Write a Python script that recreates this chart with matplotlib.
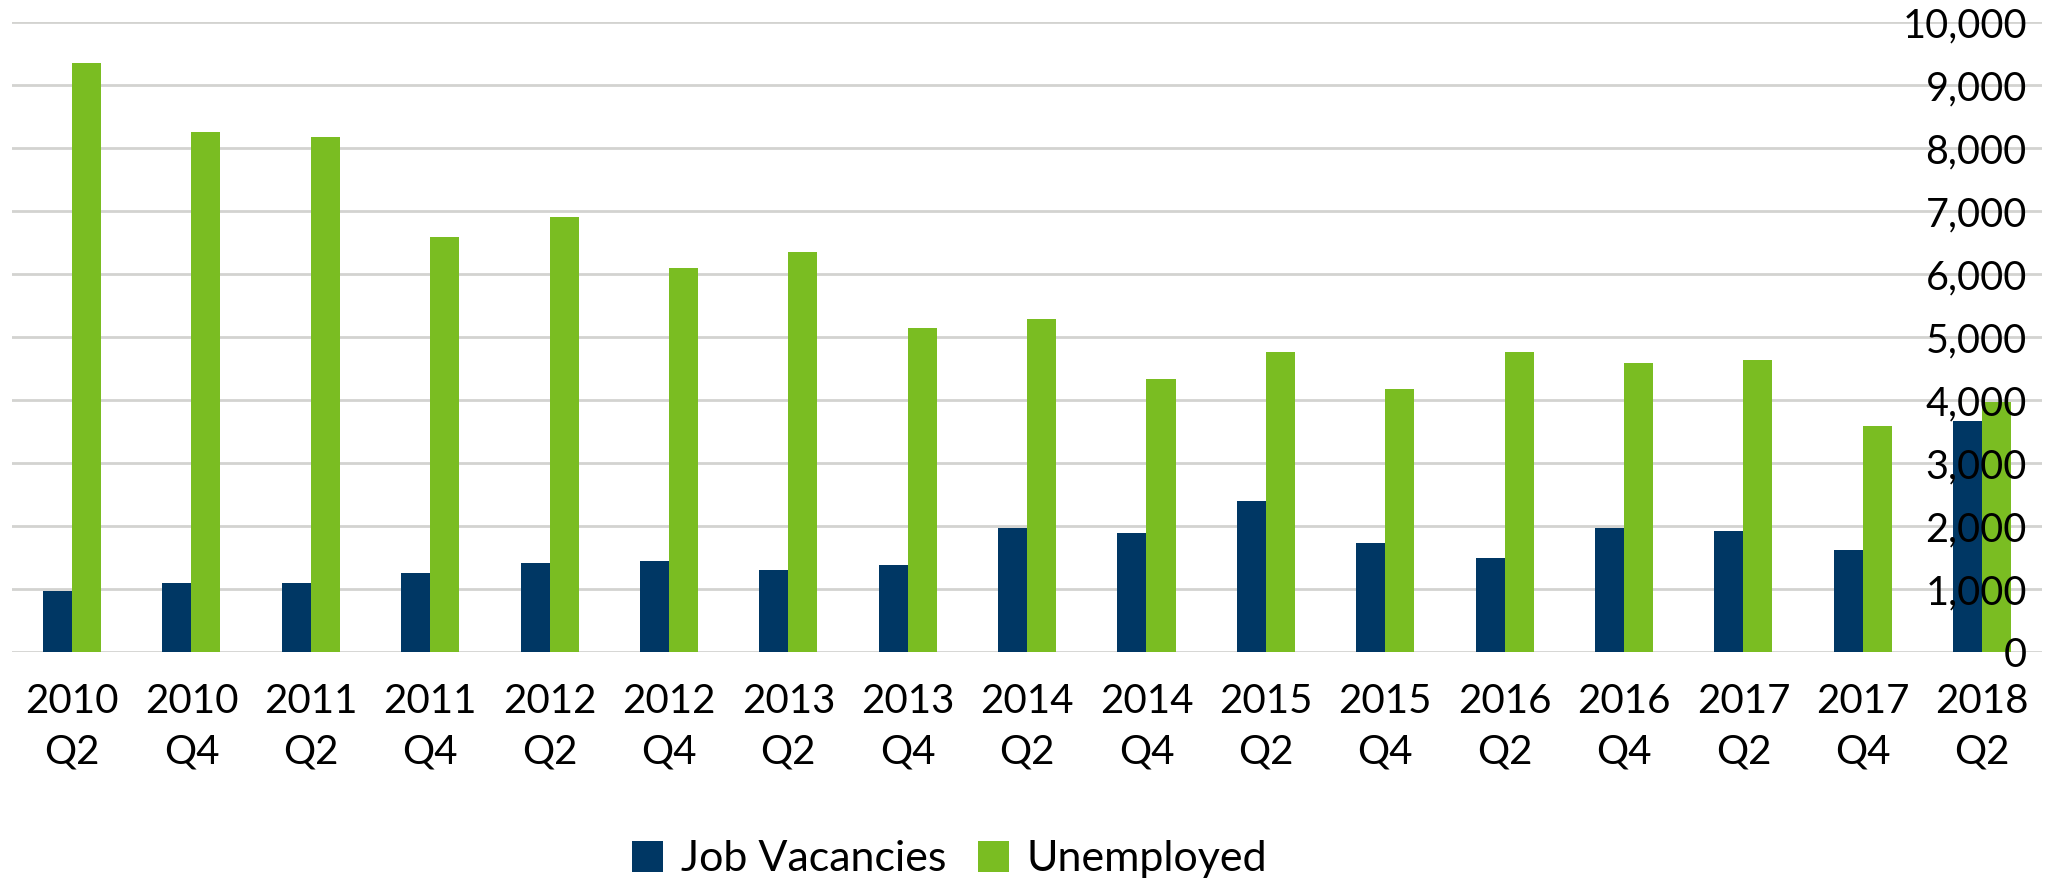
import matplotlib
matplotlib.use("Agg")
import matplotlib.pyplot as plt
import numpy as np

plt.rcParams['font.family'] = ['Lato', 'DejaVu Sans']

# quarterly figures
quarters = ["2010\nQ2", "2010\nQ4", "2011\nQ2", "2011\nQ4", "2012\nQ2", "2012\nQ4",
            "2013\nQ2", "2013\nQ4", "2014\nQ2", "2014\nQ4", "2015\nQ2", "2015\nQ4",
            "2016\nQ2", "2016\nQ4", "2017\nQ2", "2017\nQ4", "2018\nQ2"]
vacancies = [978, 1102, 1102, 1260, 1419, 1453, 1306, 1386, 1973, 1894,
             2402, 1735, 1497, 1973, 1925, 1616, 3676]
unemployed = [9350, 8251, 8182, 6584, 6915, 6102, 6354, 5147, 5290, 4338,
              4767, 4179, 4767, 4592, 4640, 3597, 3980]
y_ticks = list(range(0, 10001, 1000))

NAVY = '#003764'
GREEN = '#7abd22'
GRID = '#d3d3d0'

fig = plt.figure(figsize=(20.6, 8.84), dpi=100)
ax = fig.add_axes([0.006, 0.2621, 0.9852, 0.7127])

x = np.arange(len(quarters))
w = 0.243
b1 = ax.bar(x - w / 2, vacancies, width=w, color=NAVY, label='Job Vacancies')
b2 = ax.bar(x + w / 2, unemployed, width=w, color=GREEN, label='Unemployed')

ax.set_xlim(-0.5, len(quarters) - 0.5)
ax.set_ylim(0, 10000)
ax.set_axisbelow(True)
ax.set_yticks(y_ticks)
ax.yaxis.grid(True, color=GRID, linewidth=2)
for s in ax.spines.values():
    s.set_visible(False)

ax.set_xticks(x)
ax.set_xticklabels(quarters, fontsize=29, linespacing=1.45)
ax.tick_params(axis='x', length=0, pad=22)

# value labels sit on top of the bars, so they go on a twin axis drawn later
ax2 = ax.twinx()
ax2.set_ylim(0, 10000)
ax2.set_yticks(y_ticks)
ax2.set_yticklabels([f"{v:,}" for v in y_ticks], fontsize=28.5, ha='right')
ax2.tick_params(axis='y', length=0, pad=-10.8)
for s in ax2.spines.values():
    s.set_visible(False)
# twinx turns the left ticks back on
ax.tick_params(axis='y', left=False, labelleft=False, length=0)

fig.legend(handles=[b1, b2], loc='center', bbox_to_anchor=(0.461, 0.028),
           ncol=2, frameon=False, fontsize=31, handlelength=0.72,
           handleheight=0.72, handletextpad=0.4, columnspacing=0.75)

fig.savefig("out.png", dpi=100)
